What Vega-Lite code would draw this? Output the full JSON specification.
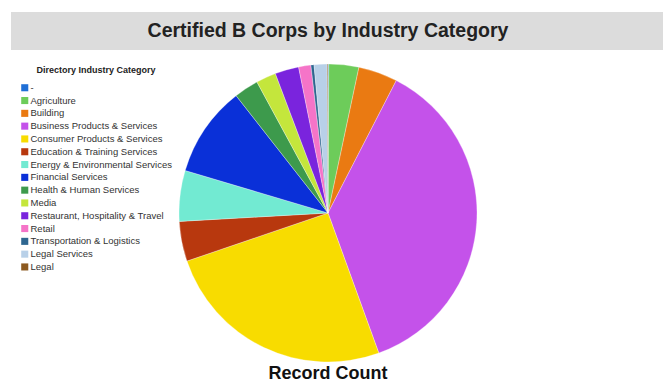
{
  "$schema": "https://vega.github.io/schema/vega-lite/v6.json",
  "padding": {"left": 11, "top": 12, "right": 0, "bottom": 0},
  "background": "white",
  "spacing": 13,
  "config": {"view": {"stroke": null}, "font": "Liberation Sans"},
  "resolve": {"legend": {"color": "independent"}, "scale": {"color": "independent"}},
  "vconcat": [
    {
      "width": 652,
      "height": 38,
      "view": {"fill": "#dcdcdc", "stroke": null},
      "data": {"values": [{"t": "Certified B Corps by Industry Category"}]},
      "mark": {"type": "text", "font": "Liberation Sans", "fontWeight": "bold", "fontSize": 19.5, "color": "#222222", "dx": -9, "baseline": "middle", "align": "center"},
      "encoding": {"text": {"field": "t"}}
    },
    {
      "width": 634,
      "height": 300,
      "title": {"text": "Record Count", "orient": "bottom", "anchor": "middle", "fontSize": 18, "fontWeight": "bold", "font": "Liberation Sans", "color": "#111111", "offset": 2},
      "data": {"values": [
        {"category": "-", "count": 1, "ord": 0},
        {"category": "Agriculture", "count": 39, "ord": 1},
        {"category": "Building", "count": 51, "ord": 2},
        {"category": "Business Products & Services", "count": 443, "ord": 3},
        {"category": "Consumer Products & Services", "count": 304, "ord": 4},
        {"category": "Education & Training Services", "count": 52, "ord": 5},
        {"category": "Energy & Environmental Services", "count": 66, "ord": 6},
        {"category": "Financial Services", "count": 118, "ord": 7},
        {"category": "Health & Human Services", "count": 32, "ord": 8},
        {"category": "Media", "count": 26, "ord": 9},
        {"category": "Restaurant, Hospitality & Travel", "count": 31, "ord": 10},
        {"category": "Retail", "count": 16, "ord": 11},
        {"category": "Transportation & Logistics", "count": 4, "ord": 12},
        {"category": "Legal Services", "count": 17, "ord": 13},
        {"category": "Legal", "count": 1, "ord": 14}
      ]},
      "mark": {"type": "arc", "outerRadius": 149, "stroke": "white", "strokeWidth": 0.3},
      "encoding": {
        "theta": {"field": "count", "type": "quantitative", "stack": true},
        "order": {"field": "ord", "type": "quantitative"},
        "color": {
          "field": "category",
          "type": "nominal",
          "sort": ["-", "Agriculture", "Building", "Business Products & Services", "Consumer Products & Services", "Education & Training Services", "Energy & Environmental Services", "Financial Services", "Health & Human Services", "Media", "Restaurant, Hospitality & Travel", "Retail", "Transportation & Logistics", "Legal Services", "Legal"],
          "scale": {
            "domain": ["-", "Agriculture", "Building", "Business Products & Services", "Consumer Products & Services", "Education & Training Services", "Energy & Environmental Services", "Financial Services", "Health & Human Services", "Media", "Restaurant, Hospitality & Travel", "Retail", "Transportation & Logistics", "Legal Services", "Legal"],
            "range": ["#1f6fd6", "#6dcc5a", "#ea7a12", "#c452ea", "#f8dc00", "#b8380e", "#72ead2", "#0a30d8", "#3d9a4c", "#c4e63c", "#7a24dd", "#f574c8", "#2e6690", "#b8d0e8", "#8c5a20"]
          },
          "legend": {
            "title": "Directory Industry Category",
            "orient": "none",
            "legendX": 9,
            "legendY": 3,
            "titleFontSize": 9,
            "titleFontWeight": "bold",
            "titleColor": "#222222",
            "titleAnchor": "middle",
            "titlePadding": 8,
            "labelFontSize": 9.5,
            "labelColor": "#333333",
            "labelOffset": 1,
            "symbolType": "square",
            "symbolSize": 50,
            "symbolStrokeWidth": 0,
            "rowPadding": 1.8,
            "labelLimit": 300
          }
        }
      }
    }
  ]
}
